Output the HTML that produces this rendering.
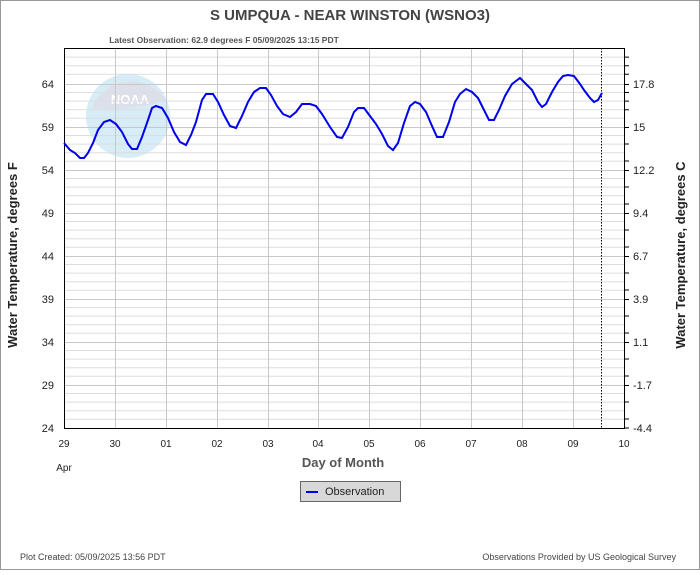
<!DOCTYPE html>
<html><head><meta charset="utf-8"><style>
body{margin:0;background:#fff}
svg text{font-family:"Liberation Sans",Arial,sans-serif}
</style></head><body>
<svg width="700" height="570" viewBox="0 0 700 570" xmlns="http://www.w3.org/2000/svg">
<rect x="0.5" y="0.5" width="699" height="569" fill="#fff" stroke="#999"/>
<text x="350" y="20" font-size="15" font-weight="bold" fill="#444" text-anchor="middle">S UMPQUA - NEAR WINSTON  (WSNO3)</text>
<text x="224" y="43" font-size="8.5" font-weight="bold" fill="#555" text-anchor="middle">Latest Observation: 62.9 degrees F  05/09/2025 13:15 PDT</text>
<!-- NOAA logo -->
<g opacity="0.35">
<circle cx="128" cy="116" r="42" fill="#8ccbe8"/>
<path d="M92 108 A42 42 0 0 1 166 100 Q130 112 92 108Z" fill="#9aa7c8"/>
<text x="130" y="104" font-size="13" font-weight="bold" fill="#fff" text-anchor="middle">NOAA</text>
</g>
<g id="grid" stroke="#ddd" stroke-width="1">
<!-- minor horizontal every 1F -->
<path d="M64 48.5H624 M64 57.1H624 M64 65.7H624 M64 74.3H624 M64 92.5H624 M64 101.1H624 M64 109.7H624 M64 118.3H624 M64 135.5H624 M64 144.1H624 M64 152.7H624 M64 161.3H624 M64 178.5H624 M64 187.1H624 M64 195.7H624 M64 204.3H624 M64 221.5H624 M64 230.1H624 M64 238.7H624 M64 247.3H624 M64 264.5H624 M64 273.1H624 M64 281.7H624 M64 290.3H624 M64 307.5H624 M64 316.1H624 M64 324.7H624 M64 333.3H624 M64 350.5H624 M64 359.1H624 M64 367.7H624 M64 376.3H624 M64 393.5H624 M64 402.1H624 M64 410.7H624 M64 419.3H624"/>
</g>
<g stroke="#c8c8c8" stroke-width="1">
<path d="M64 84.5H624 M64 127.5H624 M64 170.5H624 M64 213.5H624 M64 256.5H624 M64 299.5H624 M64 342.5H624 M64 385.5H624"/>
<path d="M115.5 48V428 M166.5 48V428 M217.5 48V428 M268.5 48V428 M318.5 48V428 M369.5 48V428 M420.5 48V428 M471.5 48V428 M522.5 48V428 M573.5 48V428"/>
</g>
<rect x="64.5" y="48.5" width="560" height="380" fill="none" stroke="#000"/>
<line x1="601.5" y1="48" x2="601.5" y2="428" stroke="#000" stroke-dasharray="1.5,1.5"/>
<g stroke="#000">
<path d="M624 57.1h5 M624 65.7h5 M624 74.3h5 M624 84.5h5 M624 92.5h5 M624 101.1h5 M624 109.7h5 M624 127.5h5 M624 144h5 M624 161h5 M624 170.5h5 M624 187h5 M624 204h5 M624 213.5h5 M624 230h5 M624 247h5 M624 256.5h5 M624 273h5 M624 290h5 M624 299.5h5 M624 316h5 M624 333h5 M624 342.5h5 M624 359h5 M624 376h5 M624 385.5h5 M624 402h5 M624 419h5 M624 428h5"/>
</g>
<polyline fill="none" stroke="#0000ee" stroke-width="2" points="64,143 70,150 75,153 80,158 84,158 88,153 93,143 98,130 104,122 110,120 116,124 122,132 128,144 132,149 137,149 142,137 148,120 152,108 156,106 162,108 168,118 174,132 180,142 186,145 191,135 196,122 202,100 206,94 213,94 218,102 224,115 230,126 236,128 242,116 248,102 254,92 260,88 266,88 271,95 277,106 283,114 290,117 296,112 302,104 310,104 316,106 322,114 330,127 337,137 342,138 348,127 354,112 358,108 364,108 370,116 376,124 382,134 388,146 393,150 398,143 404,123 410,106 415,102 420,104 426,112 432,126 437,137 443,137 449,122 455,102 460,94 466,89 472,92 478,98 484,110 489,120 494,120 499,110 505,96 512,84 520,78 526,84 532,90 538,102 542,107 546,104 552,92 558,82 563,76 568,75 574,76 580,84 584,90 590,98 594,102 598,100 602,93"/>
<g font-size="11" fill="#222" text-anchor="end">
<text x="54" y="88">64</text><text x="54" y="131">59</text><text x="54" y="174">54</text><text x="54" y="217">49</text><text x="54" y="260">44</text><text x="54" y="303">39</text><text x="54" y="346">34</text><text x="54" y="389">29</text><text x="54" y="432">24</text>
</g>
<g font-size="11" fill="#222">
<text x="633" y="88">17.8</text><text x="633" y="131">15</text><text x="633" y="174">12.2</text><text x="633" y="217">9.4</text><text x="633" y="260">6.7</text><text x="633" y="303">3.9</text><text x="633" y="346">1.1</text><text x="633" y="389">-1.7</text><text x="633" y="432">-4.4</text>
</g>
<g font-size="10" fill="#222" text-anchor="middle">
<text x="64" y="447">29</text><text x="115" y="447">30</text><text x="166" y="447">01</text><text x="217" y="447">02</text><text x="268" y="447">03</text><text x="318" y="447">04</text><text x="369" y="447">05</text><text x="420" y="447">06</text><text x="471" y="447">07</text><text x="522" y="447">08</text><text x="573" y="447">09</text><text x="624" y="447">10</text>
<text x="64" y="471">Apr</text>
</g>
<text x="343" y="467" font-size="13" font-weight="bold" fill="#555" text-anchor="middle">Day of Month</text>
<text transform="translate(17,255) rotate(-90)" font-size="13" font-weight="bold" fill="#222" text-anchor="middle">Water Temperature, degrees F</text>
<text transform="translate(685,255) rotate(-90)" font-size="13" font-weight="bold" fill="#222" text-anchor="middle">Water Temperature, degrees C</text>
<rect x="300.5" y="481.5" width="100" height="20" fill="#d8d8d8" stroke="#666"/>
<line x1="306" y1="492" x2="318" y2="492" stroke="#0000ee" stroke-width="2"/>
<text x="325" y="495" font-size="11" fill="#222">Observation</text>
<text x="20" y="560" font-size="9" fill="#444">Plot Created: 05/09/2025 13:56 PDT</text>
<text x="676" y="560" font-size="9" fill="#444" text-anchor="end">Observations Provided by US Geological Survey</text>
</svg>
</body></html>
